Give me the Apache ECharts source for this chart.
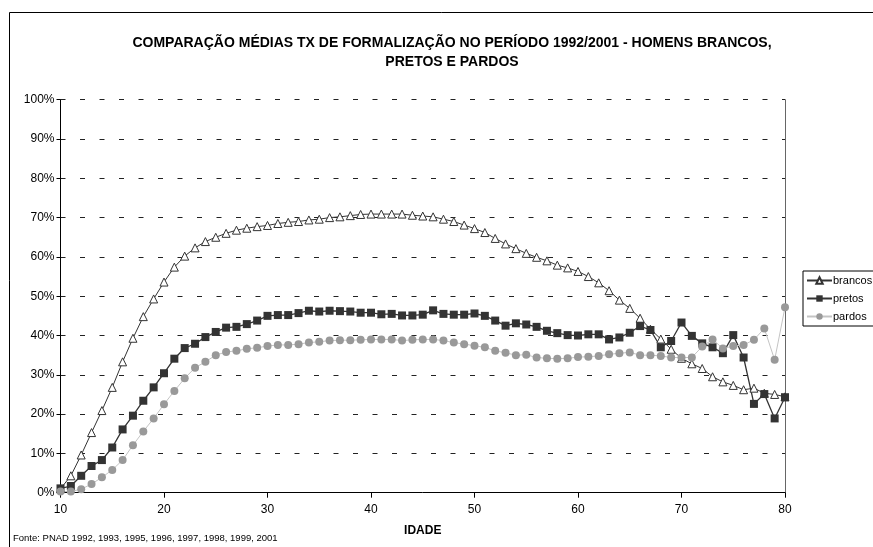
<!DOCTYPE html>
<html>
<head>
<meta charset="utf-8">
<script src="https://cdn.jsdelivr.net/npm/echarts@6/dist/echarts.min.js"></script>
<style>
  html, body { margin: 0; padding: 0; background: #fff; }
  #chart { width: 873px; height: 547px; }
</style>
</head>
<body>
<div id="chart"></div>
<script>
// idades 10..80
var idades = [];
for (var a = 10; a <= 80; a++) idades.push(a);

var brancos = [1.0, 4.3, 9.6, 15.3, 20.9, 26.8, 33.3, 39.3, 44.8, 49.3,
    53.6, 57.4, 60.2, 62.3, 63.9, 65.0, 66.0, 66.8, 67.3, 67.7,
    68.0, 68.5, 68.8, 69.0, 69.4, 69.6, 70.0, 70.2, 70.5, 70.8,
    70.9, 70.9, 70.9, 70.9, 70.6, 70.4, 70.2, 69.6, 69.0, 68.1,
    67.2, 66.2, 64.7, 63.3, 62.1, 60.9, 59.9, 59.0, 57.9, 57.2,
    56.3, 55.0, 53.4, 51.4, 49.0, 46.9, 44.4, 41.6, 39.1, 36.5,
    34.2, 32.8, 31.6, 29.5, 28.2, 27.3, 26.2, 26.6, 25.3, 25.0,
    24.4];
var pretos = [1.1, 1.7, 4.3, 6.8, 8.3, 11.5, 16.1, 19.6, 23.4, 26.8,
    30.4, 34.1, 36.8, 37.9, 39.6, 40.9, 42.0, 42.2, 42.9, 43.8,
    45.0, 45.2, 45.2, 45.7, 46.3, 46.1, 46.3, 46.2, 46.1, 45.8,
    45.8, 45.4, 45.5, 45.1, 45.1, 45.3, 46.4, 45.5, 45.3, 45.3,
    45.6, 45.0, 43.8, 42.5, 43.1, 42.8, 42.2, 41.2, 40.6, 40.1,
    40.0, 40.3, 40.3, 39.0, 39.5, 40.7, 42.4, 41.4, 37.0, 38.6,
    43.3, 39.9, 38.0, 37.0, 35.5, 40.1, 34.4, 22.6, 25.1, 18.9,
    24.3];
var pardos = [0.3, 0.3, 0.9, 2.2, 3.9, 5.8, 8.3, 12.1, 15.6, 18.9,
    22.5, 25.9, 29.1, 31.8, 33.3, 35.0, 35.8, 36.1, 36.6, 36.9,
    37.3, 37.6, 37.6, 37.8, 38.2, 38.4, 38.7, 38.8, 38.8, 38.9,
    39.0, 39.0, 39.0, 38.7, 38.9, 39.0, 39.0, 38.7, 38.2, 37.8,
    37.4, 37.0, 36.1, 35.6, 35.0, 35.1, 34.4, 34.2, 34.1, 34.2,
    34.5, 34.6, 34.8, 35.2, 35.5, 35.7, 35.0, 35.0, 34.8, 34.4,
    34.4, 34.4, 37.2, 39.0, 36.7, 37.3, 37.6, 38.9, 41.8, 33.8,
    47.2];

function pares(vals) {
    return idades.map(function (a, i) { return [a, vals[i]]; });
}

var fonte = "'Liberation Sans', Arial, sans-serif";

var chart = echarts.init(document.getElementById('chart'));
chart.setOption({
    animation: false,
    textStyle: { fontFamily: fonte, color: '#000' },
    title: {
        text: 'COMPARAÇÃO MÉDIAS TX DE FORMALIZAÇÃO NO PERÍODO 1992/2001 - HOMENS BRANCOS,\nPRETOS E PARDOS',
        left: 447,
        top: 29,
        textAlign: 'center',
        textStyle: { fontFamily: fonte, fontSize: 14, fontWeight: 'bold', color: '#000', lineHeight: 19 }
    },
    legend: {
        orient: 'vertical',
        left: 803,
        top: 271,
        padding: [4, 40, 4, 3],
        borderColor: '#000',
        borderWidth: 1,
        itemWidth: 25,
        itemHeight: 8,
        itemGap: 7,
        textStyle: { fontFamily: fonte, fontSize: 11, color: '#000', padding: [0, 0, 0, -4] },
        data: ['brancos', 'pretos', 'pardos']
    },
    graphic: [
        {
            type: 'rect',
            shape: { x: 9.5, y: 12.5, width: 900, height: 600 },
            style: { fill: 'none', stroke: '#000', lineWidth: 1 },
            silent: true
        },
        {
            type: 'text',
            left: 13,
            top: 533,
            style: { text: 'Fonte: PNAD 1992, 1993, 1995, 1996, 1997, 1998, 1999, 2001', font: '9.5px ' + fonte, fill: '#000' }
        }
    ],
    grid: { left: 60.5, right: 88, top: 99.7, bottom: 54.3 },
    xAxis: {
        type: 'value',
        min: 10,
        max: 80,
        interval: 10,
        name: 'IDADE',
        nameLocation: 'middle',
        nameGap: 32,
        nameTextStyle: { fontFamily: fonte, fontSize: 12, fontWeight: 'bold', color: '#000' },
        axisLine: { lineStyle: { color: '#000', width: 1 } },
        axisTick: { length: 5, lineStyle: { color: '#000' } },
        axisLabel: { fontFamily: fonte, fontSize: 12, color: '#000', margin: 11 },
        splitLine: { show: false }
    },
    yAxis: [
        {
            type: 'value',
            min: 0,
            max: 100,
            interval: 10,
            axisLine: { show: true, lineStyle: { color: '#000', width: 1 } },
            axisTick: { show: true, length: 4, lineStyle: { color: '#000' } },
            axisLabel: { fontFamily: fonte, fontSize: 12, color: '#000', formatter: '{value}%', margin: 6 },
            splitLine: { show: true, lineStyle: { color: '#222', width: 1, type: [5, 14.5] } }
        },
        {
            type: 'value',
            position: 'right',
            min: 0,
            max: 100,
            interval: 10,
            axisLine: { show: true, lineStyle: { color: '#666', width: 1 } },
            axisTick: { show: false },
            axisLabel: { show: false },
            splitLine: { show: false }
        }
    ],
    series: [
        {
            name: 'brancos',
            type: 'line',
            data: pares(brancos),
            symbol: 'triangle',
            symbolSize: 8,
            lineStyle: { color: '#333', width: 1 },
            itemStyle: { color: '#fff', borderColor: '#333', borderWidth: 1 }
        },
        {
            name: 'pretos',
            type: 'line',
            data: pares(pretos),
            symbol: 'rect',
            symbolSize: 8,
            lineStyle: { color: '#333', width: 1.3 },
            itemStyle: { color: '#333', borderColor: '#333', borderWidth: 0 }
        },
        {
            name: 'pardos',
            type: 'line',
            data: pares(pardos),
            symbol: 'circle',
            symbolSize: 8,
            lineStyle: { color: '#c4c4c4', width: 1 },
            itemStyle: { color: '#999', borderWidth: 0 }
        }
    ]
});
</script>
</body>
</html>
